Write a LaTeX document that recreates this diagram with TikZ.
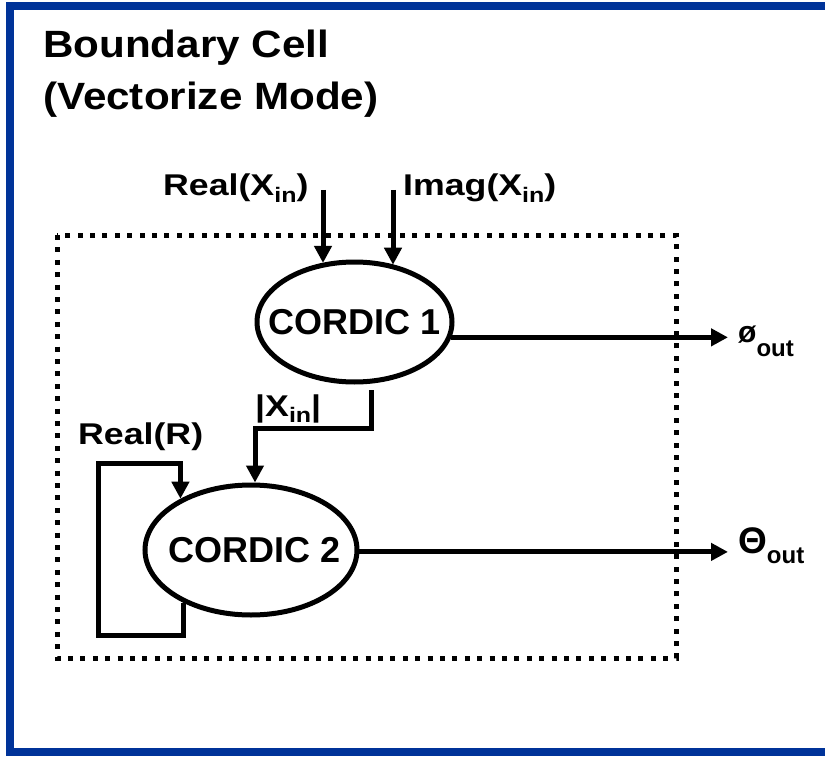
\documentclass[tikz,border=0pt]{standalone}
\usepackage{fontspec}
\setmainfont{Liberation Sans}
\newfontfamily\titlefont[FakeStretch=1.11]{Liberation Sans Bold}
\newfontfamily\labelfont[FakeStretch=1.19]{Liberation Sans Bold}
\newfontfamily\plainbold{Liberation Sans Bold}
\usetikzlibrary{arrows.meta,shapes.geometric}
\definecolor{frameblue}{RGB}{0,51,153}
\newcommand{\insub}[1]{\raisebox{-#1}{\fontsize{21pt}{21pt}\selectfont in}}
\newcommand{\outsub}[1]{\raisebox{-#1}{\fontsize{24pt}{24pt}\selectfont out}}
\begin{document}
\begin{tikzpicture}[x=1pt, y=-1pt,
  cell/.style={ellipse, draw, line width=5pt, inner sep=0pt,
    font=\plainbold\fontsize{36pt}{36pt}\selectfont},
  wire/.style={line width=5pt},
  arr/.style={wire, -{Triangle[length=17pt,width=17pt]}},
  lbl/.style={anchor=base west, inner sep=0pt,
    font=\labelfont\fontsize{30pt}{30pt}\selectfont},
  outl/.style={anchor=base west, inner sep=0pt,
    font=\plainbold\fontsize{30pt}{30pt}\selectfont},
  ttl/.style={anchor=base west, inner sep=0pt,
    font=\titlefont\fontsize{38pt}{38pt}\selectfont},
  dotbox/.style={line width=5pt, dash pattern=on 5pt off 7.4pt}]
\useasboundingbox (0,0) rectangle (825,757);
% frame
\draw[frameblue, line width=8pt] (825,6) -- (10,6) -- (10,752) -- (825,752);
% title
\node[ttl] (t1) at (43,58) {Boundary Cell};
\node[ttl] (t2) at (43,110) {(Vectorize Mode)};
% dotted boundary
\draw[dotbox] (57,235) rectangle (676,658);
% cells
\node[cell, minimum width=195pt, minimum height=120pt] (c1) at (354.5,322) {\makebox[0pt]{CORDIC 1}};
\node[cell, minimum width=212pt, minimum height=130pt] (c2) at (251,550) {\makebox[0pt]{\hspace{8pt}CORDIC 2}};
% labels
\node[lbl] (lreal) at (163,195) {Real(X\insub{8pt})};
\node[lbl] (limag) at (403,195) {Imag(X\insub{8pt})};
\node[lbl] (lmag) at (255,416) {|X\insub{6pt}|};
\node[lbl] (lrr) at (78,444) {Real(R)};
\node[outl] (lphi) at (738,342) {ø\outsub{14pt}};
\node[outl] (lth) at (738,553) {{\fontsize{37pt}{37pt}\selectfont Θ}\outsub{10pt}};
% connectors
\coordinate (rin) at (323,190);
\coordinate (iin) at (393,190);
\coordinate (o1) at (728,337);
\coordinate (o2) at (728,552);
\coordinate (xs) at (371,390);
\coordinate (xm) at (255,428);
\coordinate (lb) at (98,635);
\coordinate (lt) at (98,463);
\draw[arr] (rin) -- (rin |- c1.119);
\draw[arr] (iin) -- (iin |- c1.55);
\draw[arr] (c1.-9) -- (c1.-9 -| o1);
\draw[arr] (c2.-1) -- (c2.-1 -| o2);
\draw[arr] (xs) |- (xm) -- (xm |- c2.88);
\draw[arr] (c2.218) |- (lb) -- (lt) -| (c2.144);
\end{tikzpicture}
\end{document}
